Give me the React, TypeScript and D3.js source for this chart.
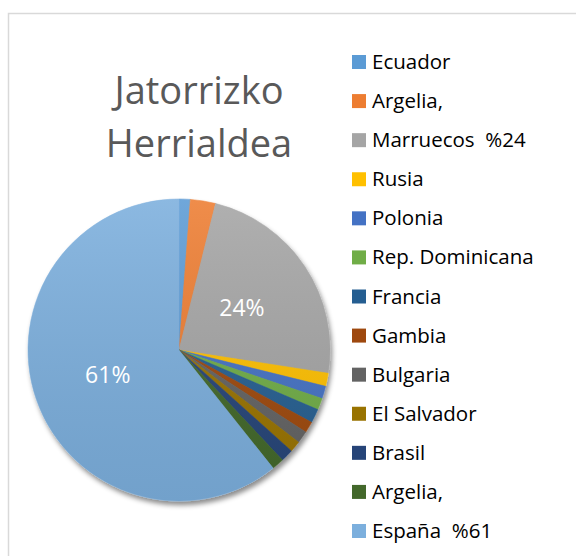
import React, { useEffect, useRef } from 'react';
import * as d3 from 'd3';

const countries = [
  'Ecuador', 'Argelia,', 'Marruecos  %24', 'Rusia', 'Polonia', 'Rep. Dominicana',
  'Francia', 'Gambia', 'Bulgaria', 'El Salvador', 'Brasil', 'Argelia,', 'España  %61',
];
const shares = [1.2, 2.7, 23.6, 1.4, 1.35, 1.25, 1.5, 1.2, 1.3, 1.2, 1.35, 1.3, 60.8];
const colors = [
  '#5B9BD5', '#ED7D31', '#A5A5A5', '#FFC000', '#4472C4', '#70AD47',
  '#255E91', '#9E480E', '#636363', '#997300', '#264478', '#43682B', '#7CAFDD',
];
const titleLines = ['Jatorrizko', 'Herrialdea'];

const FONT = '"Open Sans", sans-serif';

const App = () => {
  const ref = useRef<SVGSVGElement>(null);

  useEffect(() => {
    const svg = d3.select(ref.current);
    svg.selectAll('*').remove();

    const defs = svg.append('defs');
    const shadow = defs.append('filter').attr('id', 'sh')
      .attr('x', '-20%').attr('y', '-20%').attr('width', '140%').attr('height', '140%');
    shadow.append('feDropShadow')
      .attr('dx', 2).attr('dy', 4).attr('stdDeviation', 2.5)
      .attr('flood-color', '#000').attr('flood-opacity', 0.45);
    const grad = defs.append('linearGradient').attr('id', 'shade')
      .attr('x1', 0).attr('y1', 0).attr('x2', 0).attr('y2', 1);
    grad.append('stop').attr('offset', '0%').attr('stop-color', '#fff').attr('stop-opacity', 0.12);
    grad.append('stop').attr('offset', '100%').attr('stop-color', '#000').attr('stop-opacity', 0.08);

    // chart frame
    svg.append('rect')
      .attr('x', 8.5).attr('y', 13.5).attr('width', 600).attr('height', 600)
      .attr('fill', '#fff').attr('stroke', '#d9d9d9').attr('stroke-width', 1.5);

    // title
    svg.append('text')
      .attr('x', 199).attr('y', 104)
      .attr('text-anchor', 'middle')
      .attr('font-family', FONT).attr('font-size', 38).attr('fill', '#595959')
      .selectAll('tspan').data(titleLines).enter().append('tspan')
      .attr('x', 199).attr('dy', (d, i) => (i === 0 ? 0 : 53))
      .text(d => d);

    // pie
    const cx = 179, cy = 350, R = 151;
    const total = d3.sum(shares);
    const pie = d3.pie<number>().sort(null).value(d => d);
    const arcs = pie(shares);
    const arc = d3.arc<d3.PieArcDatum<number>>().innerRadius(0).outerRadius(R);

    const g = svg.append('g').attr('transform', `translate(${cx},${cy})`);
    const slices = g.append('g').attr('filter', 'url(#sh)');
    slices.selectAll('path').data(arcs).enter().append('path')
      .attr('d', arc)
      .attr('fill', (d, i) => colors[i])
      .attr('stroke', (d, i) => colors[i])
      .attr('stroke-width', 0.5);
    g.append('circle').attr('r', R).attr('fill', 'url(#shade)');

    g.selectAll('text.lbl').data(arcs.filter(d => d.value / total > 0.1)).enter().append('text')
      .attr('class', 'lbl')
      .attr('transform', d => `translate(${arc.centroid(d)})`)
      .attr('text-anchor', 'middle').attr('dy', '0.35em')
      .attr('font-family', FONT).attr('font-size', 23).attr('fill', '#fff')
      .text(d => `${Math.round((d.value / total) * 100)}%`);

    // legend
    const ly = d3.scalePoint<number>().domain(d3.range(countries.length)).range([62, 531]);
    const items = svg.append('g').selectAll('g').data(countries).enter().append('g')
      .attr('transform', (d, i) => `translate(352,${ly(i)})`);
    items.append('rect')
      .attr('x', 0).attr('y', -7).attr('width', 14).attr('height', 14)
      .attr('fill', (d, i) => colors[i]);
    items.append('text')
      .attr('x', 20).attr('y', 7)
      .attr('font-family', FONT).attr('font-size', 20.5).attr('fill', '#000')
      .attr('xml:space', 'preserve').style('white-space', 'pre')
      .text(d => d);
  }, []);

  return (
    <svg ref={ref} width={576} height={556}
      style={{ position: 'absolute', left: 0, top: 0 }} />
  );
};

export default App;
